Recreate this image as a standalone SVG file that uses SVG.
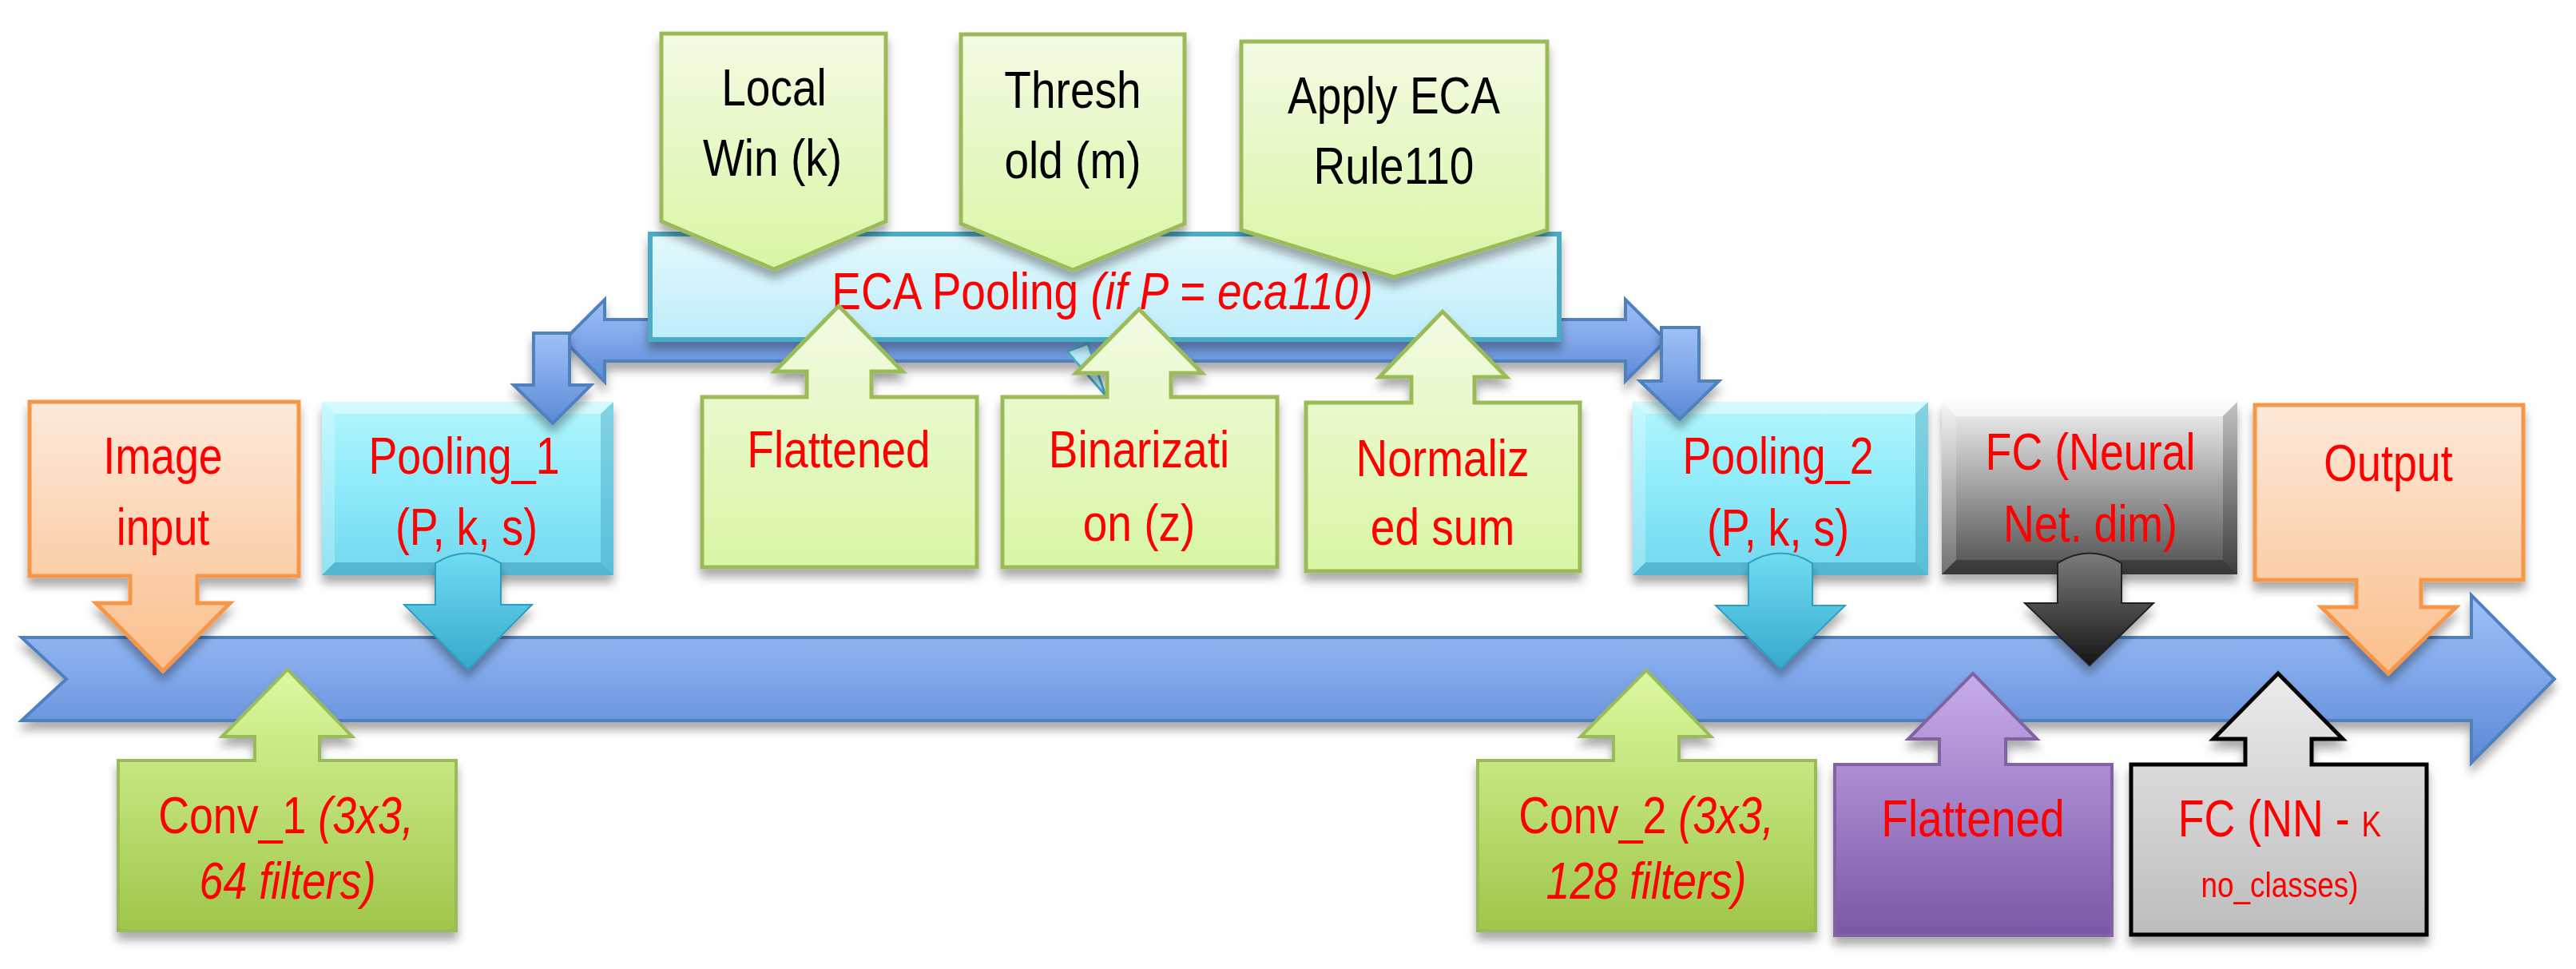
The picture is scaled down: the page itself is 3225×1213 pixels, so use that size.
<svg xmlns="http://www.w3.org/2000/svg" width="3225" height="1213" viewBox="0 0 3225 1213">
<defs>
<style>
.t{font-family:"Liberation Sans",Arial,sans-serif;font-size:64px;fill:#ff0000;text-anchor:middle}
.k{fill:#000000}
.i{font-style:italic}
.sm{font-size:44px}
</style>
<filter id="sh" x="-10%" y="-10%" width="125%" height="140%"><feDropShadow dx="0" dy="10" stdDeviation="6" flood-color="#000" flood-opacity="0.33"/></filter>
<linearGradient id="gBlue" x1="0" y1="0" x2="0" y2="1"><stop offset="0" stop-color="#9ec0f6"/><stop offset="0.5" stop-color="#7ea6e9"/><stop offset="1" stop-color="#5a89d6"/></linearGradient>
<linearGradient id="gOrange" x1="0" y1="0" x2="0" y2="1"><stop offset="0" stop-color="#fde9da"/><stop offset="1" stop-color="#fbbf8c"/></linearGradient>
<linearGradient id="gCyan" x1="0" y1="0" x2="0" y2="1"><stop offset="0" stop-color="#b3f7fe"/><stop offset="0.5" stop-color="#8eeafa"/><stop offset="1" stop-color="#72d8ee"/></linearGradient>
<linearGradient id="gCyanArrow" x1="0" y1="0" x2="0" y2="1"><stop offset="0" stop-color="#6fdcf2"/><stop offset="1" stop-color="#36a9cc"/></linearGradient>
<linearGradient id="gEca" x1="0" y1="0" x2="0" y2="1"><stop offset="0" stop-color="#e6f9fe"/><stop offset="1" stop-color="#bcedfb"/></linearGradient>
<linearGradient id="gLight" x1="0" y1="0" x2="0" y2="1"><stop offset="0" stop-color="#f3fbe3"/><stop offset="1" stop-color="#d8f6a4"/></linearGradient>
<linearGradient id="gConv" x1="0" y1="0" x2="0" y2="1"><stop offset="0" stop-color="#dcf9a0"/><stop offset="1" stop-color="#9fc64a"/></linearGradient>
<linearGradient id="gPurple" x1="0" y1="0" x2="0" y2="1"><stop offset="0" stop-color="#c9acea"/><stop offset="1" stop-color="#7a58a6"/></linearGradient>
<linearGradient id="gGray" x1="0" y1="0" x2="0" y2="1"><stop offset="0" stop-color="#f4f4f4"/><stop offset="0.45" stop-color="#a8a8a8"/><stop offset="1" stop-color="#4e4e4e"/></linearGradient>
<linearGradient id="gBlack" x1="0" y1="0" x2="0" y2="1"><stop offset="0" stop-color="#7c7c7c"/><stop offset="1" stop-color="#151515"/></linearGradient>
<linearGradient id="gLGray" x1="0" y1="0" x2="0" y2="1"><stop offset="0" stop-color="#ebebeb"/><stop offset="1" stop-color="#bdbdbd"/></linearGradient>
</defs>
<rect width="3225" height="1213" fill="#ffffff"/>

<g id="flow-arrows">
<path id="main-pipeline" d="M27,798 L3094,798 L3094,745 L3198,850 L3094,955 L3094,902 L27,902 L83,850 Z" fill="url(#gBlue)" stroke="#4f81bd" stroke-width="4" filter="url(#sh)"/>
<path id="eca-split" d="M706,426 L757,375 L757,400 L2035,400 L2035,375 L2086,426 L2035,477 L2035,452 L757,452 L757,478 Z" fill="url(#gBlue)" stroke="#4f81bd" stroke-width="4" filter="url(#sh)"/>
</g>

<g id="node-image-input" filter="url(#sh)">
<path d="M37,503 H374 V721 H247 V755 H288 L204,840 L120,755 H163 V721 H37 Z" fill="url(#gOrange)" stroke="#f79646" stroke-width="5"/>
<text class="t" transform="translate(204,593) scale(0.84,1)">Image</text>
<text class="t" transform="translate(204,682) scale(0.84,1)">input</text>
</g>

<g id="node-pooling1">
<g filter="url(#sh)">
<rect x="403" y="503" width="365" height="217" fill="url(#gCyan)"/>
<polygon points="403,503 768,503 752,518 419,518" fill="#ffffff" opacity="0.45"/>
<polygon points="403,503 419,518 419,704 403,720" fill="#ffffff" opacity="0.25"/>
<polygon points="768,503 752,518 752,704 768,720" fill="#2f8fae" opacity="0.35"/>
<polygon points="403,720 419,704 752,704 768,720" fill="#2f8fae" opacity="0.45"/>
</g>
<path d="M545,757 V705 Q586,680 627,705 V757 H666 L586,838 L506,757 Z" fill="url(#gCyanArrow)" stroke="#2f9ec0" stroke-width="2" filter="url(#sh)"/>
<text class="t" transform="translate(581,593) scale(0.84,1)">Pooling_1</text>
<text class="t" transform="translate(584,682) scale(0.84,1)">(P, k, s)</text>
</g>

<g id="node-eca-pooling">
<polygon points="1336,440 1362,430 1384,495" fill="#bcedfb" stroke="#4bacc6" stroke-width="3"/>
<rect x="814" y="293" width="1138" height="132" fill="url(#gEca)" stroke="#4bacc6" stroke-width="6" filter="url(#sh)"/>
<text class="t" transform="translate(1380,387) scale(0.86,1)">ECA Pooling <tspan class="i">(if P = eca110)</tspan></text>
</g>

<g id="node-local-win" filter="url(#sh)">
<path d="M828,42 H1109 V277 L969,337 L828,277 Z" fill="url(#gLight)" stroke="#9bbb59" stroke-width="5"/>
<text class="t k" transform="translate(969,132) scale(0.86,1)">Local</text>
<text class="t k" transform="translate(967,220) scale(0.86,1)">Win (k)</text>
</g>

<g id="node-threshold" filter="url(#sh)">
<path d="M1203,43 H1483 V280 L1343,338 L1203,280 Z" fill="url(#gLight)" stroke="#9bbb59" stroke-width="5"/>
<text class="t k" transform="translate(1343,135) scale(0.86,1)">Thresh</text>
<text class="t k" transform="translate(1343,223) scale(0.86,1)">old (m)</text>
</g>

<g id="node-apply-eca" filter="url(#sh)">
<path d="M1554,52 H1937 V288 L1745,347 L1554,288 Z" fill="url(#gLight)" stroke="#9bbb59" stroke-width="5"/>
<text class="t k" transform="translate(1745,142) scale(0.86,1)">Apply ECA</text>
<text class="t k" transform="translate(1745,230) scale(0.86,1)">Rule110</text>
</g>

<g id="node-flattened-eca" filter="url(#sh)">
<path d="M879,497 H1010 V465 H970 L1050,383 L1130,465 H1091 V497 H1223 V710 H879 Z" fill="url(#gLight)" stroke="#9bbb59" stroke-width="5"/>
<text class="t" transform="translate(1050,585) scale(0.86,1)">Flattened</text>
</g>

<g id="node-binarization" filter="url(#sh)">
<path d="M1255,497 H1386 V467 H1347 L1426,387 L1505,467 H1466 V497 H1599 V710 H1255 Z" fill="url(#gLight)" stroke="#9bbb59" stroke-width="5"/>
<text class="t" transform="translate(1426,585) scale(0.86,1)">Binarizati</text>
<text class="t" transform="translate(1426,677) scale(0.86,1)">on (z)</text>
</g>

<g id="node-normalized" filter="url(#sh)">
<path d="M1635,504 H1767 V472 H1727 L1806,390 L1886,472 H1846 V504 H1978 V715 H1635 Z" fill="url(#gLight)" stroke="#9bbb59" stroke-width="5"/>
<text class="t" transform="translate(1806,596) scale(0.86,1)">Normaliz</text>
<text class="t" transform="translate(1806,682) scale(0.86,1)">ed sum</text>
</g>

<g id="node-pooling2">
<g filter="url(#sh)">
<rect x="2044" y="503" width="370" height="217" fill="url(#gCyan)"/>
<polygon points="2044,503 2414,503 2398,518 2060,518" fill="#ffffff" opacity="0.45"/>
<polygon points="2044,503 2060,518 2060,704 2044,720" fill="#ffffff" opacity="0.25"/>
<polygon points="2414,503 2398,518 2398,704 2414,720" fill="#2f8fae" opacity="0.35"/>
<polygon points="2044,720 2060,704 2398,704 2414,720" fill="#2f8fae" opacity="0.45"/>
</g>
<path d="M2189,758 V705 Q2229,680 2269,705 V758 H2310 L2229,837 L2148,758 Z" fill="url(#gCyanArrow)" stroke="#2f9ec0" stroke-width="2" filter="url(#sh)"/>
<text class="t" transform="translate(2226,593) scale(0.84,1)">Pooling_2</text>
<text class="t" transform="translate(2226,683) scale(0.84,1)">(P, k, s)</text>
</g>

<g id="node-fc-neural">
<g filter="url(#sh)">
<rect x="2431" y="503" width="370" height="216" fill="url(#gGray)"/>
<polygon points="2431,503 2801,503 2783,521 2449,521" fill="#ffffff" opacity="0.6"/>
<polygon points="2431,503 2449,521 2449,701 2431,719" fill="#ffffff" opacity="0.2"/>
<polygon points="2801,503 2783,521 2783,701 2801,719" fill="#000000" opacity="0.2"/>
<polygon points="2431,719 2449,701 2783,701 2801,719" fill="#000000" opacity="0.3"/>
</g>
<path d="M2576,755 V705 Q2616,680 2656,705 V755 H2696 L2616,833 L2535,755 Z" fill="url(#gBlack)" stroke="#222222" stroke-width="2" filter="url(#sh)"/>
<text class="t" transform="translate(2617,588) scale(0.84,1)">FC (Neural</text>
<text class="t" transform="translate(2617,678) scale(0.84,1)">Net. dim)</text>
</g>

<g id="node-output" filter="url(#sh)">
<path d="M2823,507 H3159 V726 H3031 V760 H3075 L2990,843 L2906,760 H2950 V726 H2823 Z" fill="url(#gOrange)" stroke="#f79646" stroke-width="5"/>
<text class="t" transform="translate(2990,602) scale(0.84,1)">Output</text>
</g>

<g id="node-conv1" filter="url(#sh)">
<path d="M148,952 H319 V922 H278 L360,838 L441,922 H400 V952 H571 V1165 H148 Z" fill="url(#gConv)" stroke="#9bbb59" stroke-width="4"/>
<text class="t" transform="translate(358,1043) scale(0.84,1)">Conv_1 <tspan class="i">(3x3,</tspan></text>
<text class="t i" transform="translate(360,1125) scale(0.84,1)">64 filters)</text>
</g>

<g id="node-conv2" filter="url(#sh)">
<path d="M1850,952 H2020 V922 H1979 L2061,839 L2142,922 H2102 V952 H2273 V1165 H1850 Z" fill="url(#gConv)" stroke="#9bbb59" stroke-width="4"/>
<text class="t" transform="translate(2061,1043) scale(0.84,1)">Conv_2 <tspan class="i">(3x3,</tspan></text>
<text class="t i" transform="translate(2061,1125) scale(0.84,1)">128 filters)</text>
</g>

<g id="node-flattened" filter="url(#sh)">
<path d="M2297,957 H2428 V925 H2389 L2470,843 L2550,925 H2511 V957 H2644 V1171 H2297 Z" fill="url(#gPurple)" stroke="#8064a2" stroke-width="4"/>
<text class="t" transform="translate(2470,1047) scale(0.86,1)">Flattened</text>
</g>

<g id="node-fc-nn" filter="url(#sh)">
<path d="M2668,957 H2811 V925 H2771 L2852,843 L2933,925 H2894 V957 H3038 V1170 H2668 Z" fill="url(#gLGray)" stroke="#000000" stroke-width="5"/>
<text class="t" transform="translate(2854,1047) scale(0.84,1)">FC (NN - <tspan class="sm">K</tspan></text>
<text class="t sm" transform="translate(2854,1123) scale(0.84,1)">no_classes)</text>
</g>

<g id="connectors">
<path d="M668,417 H713 V482 H740 L692,530 L643,482 H668 Z" fill="url(#gBlue)" stroke="#4f81bd" stroke-width="4" filter="url(#sh)"/>
<path d="M2080,410 H2127 V477 H2152 L2103,525 L2053,477 H2080 Z" fill="url(#gBlue)" stroke="#4f81bd" stroke-width="4" filter="url(#sh)"/>
</g>
</svg>
